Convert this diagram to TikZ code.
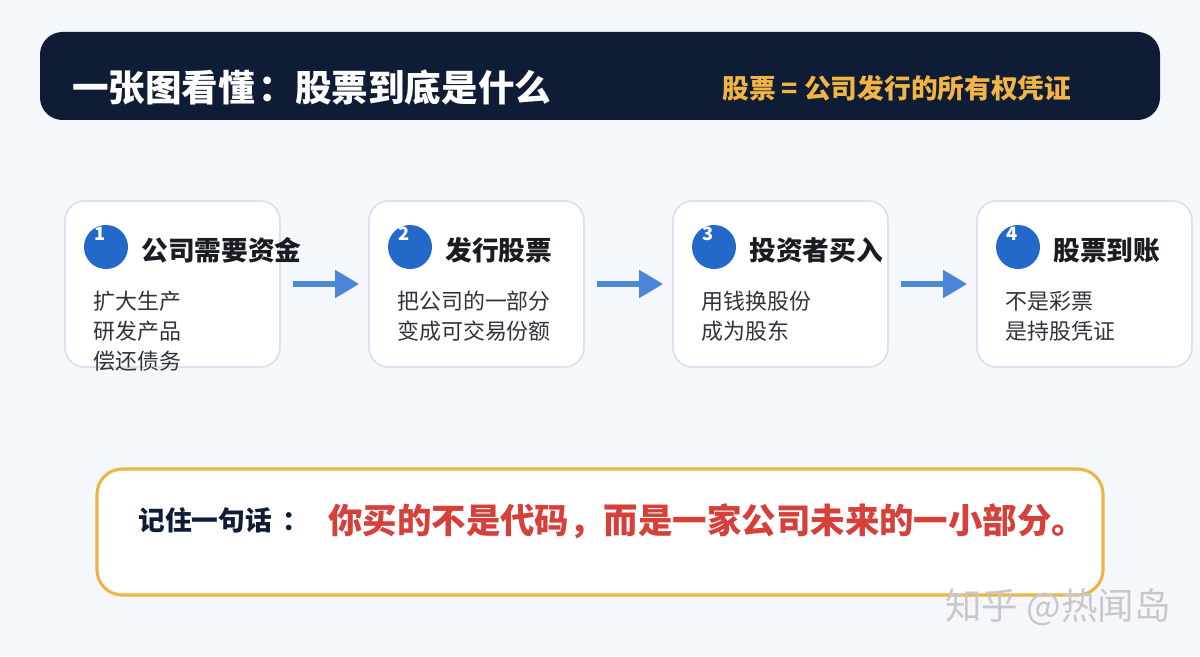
\documentclass[tikz,border=0pt]{standalone}
\usepackage{fontspec}
\setmainfont{Noto Sans CJK SC}
\usetikzlibrary{arrows.meta}
\definecolor{pagebg}{HTML}{F4F7FB}
\definecolor{navy}{HTML}{0E1C36}
\definecolor{gold}{HTML}{F2B544}
\definecolor{cardline}{HTML}{D9E3EF}
\definecolor{badgeblue}{HTML}{2468C9}
\definecolor{arrowblue}{HTML}{4B87D9}
\definecolor{quotered}{HTML}{D6403A}
\definecolor{headtext}{HTML}{1A1C24}
\definecolor{bodytext}{HTML}{30333A}
\definecolor{memoline}{HTML}{F0B444}
\definecolor{markgray}{HTML}{C6C8CC}

\begin{document}
\begin{tikzpicture}[
    x=0.025cm, y=-0.025cm,
    card/.style={draw=cardline, line width=1.2pt, fill=white, rounded corners=14pt,
                 minimum width=5.375cm, minimum height=4.15cm},
    badge/.style={circle, fill=badgeblue, minimum size=1.1cm, inner sep=0pt},
    num/.style={font=\fontsize{13}{13}\selectfont\bfseries, text=white, inner sep=0pt},
    head/.style={anchor=west, inner sep=0pt, font=\fontsize{19}{22}\selectfont\bfseries, text=headtext},
    body/.style={anchor=west, inner sep=0pt, align=left,
                 font=\fontsize{15.6}{21.3}\selectfont, text=bodytext},
    flow/.style={-{Triangle[length=17pt, width=19pt]}, line width=4pt, draw=arrowblue,
                 shorten <=8.5pt, shorten >=6.4pt},
  ]
  % page and banner
  \fill[pagebg] (0,0) rectangle (1200,656);
  \fill[navy, rounded corners=16pt] (40,32) rectangle (1160,120);
  \node[anchor=west, inner sep=0pt, text=white, font=\fontsize{26}{30}\selectfont\bfseries]
    (title) at (72,87) {一张图看懂\kern0.1em：股票到底是什么};
  \node[anchor=west, inner sep=0pt, text=gold, font=\fontsize{19}{22}\selectfont\bfseries]
    (motto) at (722,88) {股票 = 公司发行的所有权凭证};

  % steps
  \node[card] (c1) at (172.5,284) {};
  \node[card] (c2) at (476.5,284) {};
  \node[card] (c3) at (780.5,284) {};
  \node[card] (c4) at (1084.5,284) {};
  \node[badge] (b1) at (106,247) {};
  \node[badge] (b2) at (410,247) {};
  \node[badge] (b3) at (714,247) {};
  \node[badge] (b4) at (1018,247) {};
  \node[num] (n1) at (100,234) {1};
  \node[num] (n2) at (404,234) {2};
  \node[num] (n3) at (708,234) {3};
  \node[num] (n4) at (1012,234) {4};
  \node[head] (h1) at (141,250) {公司需要资金};
  \node[head] (h2) at (445,250) {发行股票};
  \node[head] (h3) at (749,250) {投资者买入};
  \node[head] (h4) at (1053,250) {股票到账};
  \node[body] (t1) at (93,331) {扩大生产\\研发产品\\偿还债务};
  \node[body] (t2) at (397,316.5) {把公司的一部分\\变成可交易份额};
  \node[body] (t3) at (701,316.5) {用钱换股份\\成为股东};
  \node[body] (t4) at (1005,316.5) {不是彩票\\是持股凭证};
  \draw[flow] (c1.east) -- (c2.west);
  \draw[flow] (c2.east) -- (c3.west);
  \draw[flow] (c3.east) -- (c4.west);

  % takeaway
  \draw[draw=memoline, line width=2.2pt, fill=white, rounded corners=18pt]
    (97,469) rectangle (1103,595);
  \node[anchor=west, inner sep=0pt, text=navy, font=\fontsize{19}{22}\selectfont\bfseries]
    (lead) at (138,520) {记住一句话\kern0.4em：};
  \node[anchor=west, inner sep=0pt, text=quotered, font=\fontsize{24.5}{28}\selectfont\bfseries]
    (quote) at (328,521) {你买的不是代码，而是一家公司未来的一小部分。};
  \node[anchor=west, inner sep=0pt, text=markgray, font=\fontsize{26}{29}\selectfont]
    (mark) at (945,607) {知乎 @热闻岛};
\end{tikzpicture}
\end{document}
